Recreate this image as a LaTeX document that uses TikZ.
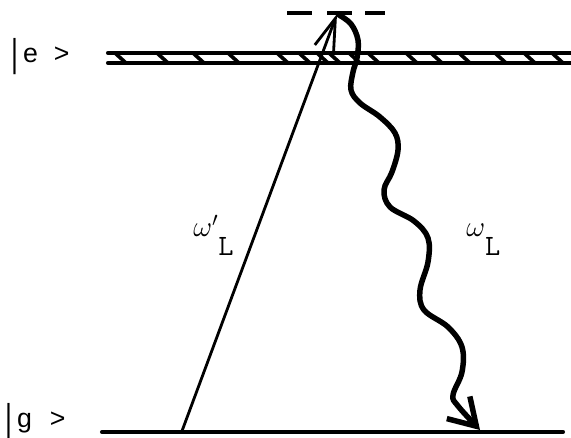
\documentclass[tikz,border=0pt]{standalone}
\usepackage{fontspec}
\usetikzlibrary{arrows.meta, positioning}
\newfontfamily\statefont{Liberation Sans}

\begin{document}
\begin{tikzpicture}[x=0.025cm, y=-0.025cm,
    level/.style={line width=2.9pt, line cap=round},
    hatch/.style={line width=2.6pt},
    virtual/.style={line width=3pt},
    pump/.style={line width=2pt, -{Straight Barb[length=8mm, width=5mm]}},
    emit/.style={line width=3.9pt, line cap=round, -{Straight Barb[length=6.5mm, width=8mm]}},
    statelabel/.style={font=\statefont\fontsize{19}{22}\selectfont, anchor=base west, inner sep=0pt},
    freqlabel/.style={font=\fontsize{21}{24}\selectfont, anchor=base west, inner sep=0pt},
  ]
  \useasboundingbox (0,0) rectangle (571,438);

  % Excited level (broadened band)
  \coordinate (e-top-left) at (108,53);
  \coordinate (e-top-right) at (571,53);
  \coordinate (e-bot-left) at (108,63);
  \coordinate (e-bot-right) at (571,63);
  \draw[level] (e-top-left) -- (e-top-right);
  \draw[level] (e-bot-left) -- (e-bot-right);
  \foreach \hx in {126,168,204,239,288,310,328,340,360,379,417,442,470,506,535,563}
    \draw[hatch] (\hx-11,53) -- (\hx,63);
  \node[statelabel] (e-label) at (11,63) {\raisebox{-0.1cm}{\scalebox{1}[1.45]{|}}\hspace{0.12cm}e\hspace{0.4cm}>};

  % Ground level
  \coordinate (g-left) at (102,432);
  \coordinate (g-right) at (563,432);
  \draw[level] (g-left) -- (g-right);
  \node[statelabel] (g-label) at (5,427) {\raisebox{-0.1cm}{\scalebox{1}[1.45]{|}}\hspace{0.12cm}g\hspace{0.45cm}>};

  % Virtual level
  \coordinate (v-a) at (287,13);
  \coordinate (v-b) at (312,13);
  \coordinate (v-c) at (327,13);
  \coordinate (v-d) at (352,13);
  \coordinate (v-e) at (365,13);
  \coordinate (v-f) at (385,13);
  \draw[virtual] (v-a) -- (v-b) (v-c) -- (v-d) (v-e) -- (v-f);

  % Absorption and emission
  \coordinate (pump-start) at (182,431);
  \coordinate (virtual-top) at (337,14);
  \coordinate (emit-end) at (480,430);
  \draw[pump] (pump-start) -- (virtual-top);
  \draw[emit] plot[smooth, tension=0.6] coordinates {
      (339,15) (351,24) (358,40) (357,58) (353,72) (351,90) (360,103) (380,117)
      (395,133) (398,150) (392,172) (384,190) (390,207) (414,221) (428,238)
      (428,262) (420,290) (424,310) (448,327) (462,347) (462,372) (453,395)
      (458,406) (480,430)};

  \node[freqlabel] (omega-pump) at (193,237) {$\omega'$\raisebox{-0.45cm}{\ttfamily L}};
  \node[freqlabel] (omega-emit) at (466,237) {$\omega$\raisebox{-0.45cm}{\ttfamily L}};
\end{tikzpicture}
\end{document}
